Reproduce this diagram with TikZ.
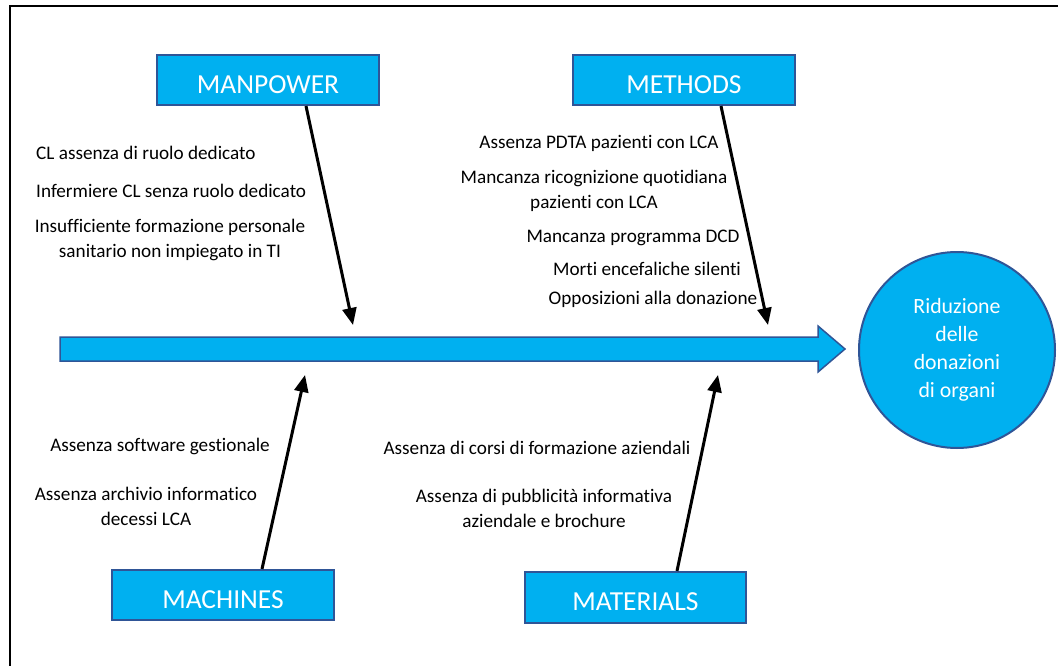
\documentclass[tikz,border=0pt]{standalone}
\usepackage{fontspec}
\setmainfont{Carlito}[Ligatures=NoCommon]
\usetikzlibrary{arrows.meta}
\definecolor{boxfill}{HTML}{00B0F0}
\definecolor{boxedge}{HTML}{2F5597}
\newcommand{\cbtext}[1]{\raisebox{0pt}[\dimexpr\height+9pt\relax][0pt]{#1}}
\begin{document}
\begin{tikzpicture}[x=1pt,y=-1pt,
  catbox/.style={draw=boxedge,line width=2pt,fill=boxfill,text=white,font=\fontsize{27.5}{30}\selectfont,inner sep=0pt,minimum width=222pt,minimum height=50pt},
  cause/.style={font=\fontsize{19.2}{25}\selectfont,inner sep=0pt,align=center},
  bone/.style={line width=3pt,-{Triangle[length=17pt,width=14pt]}}]
\useasboundingbox (0,0) rectangle (1058,666);
\fill[white] (0,0) rectangle (1058,666);
\draw[line width=2pt] (10,666) -- (10,6) -- (1058,6);
% categories
\node[catbox] (man) at (268,80) {\cbtext{MANPOWER}};
\node[catbox] (met) at (684,80) {\cbtext{METHODS}};
\node[catbox] (mac) at (223,595) {\cbtext{MACHINES}};
\node[catbox,minimum width=221pt,minimum height=51pt] (mat) at (635.5,597.5) {\cbtext{MATERIALS}};
% effect
\node[circle,draw=boxedge,line width=2pt,fill=boxfill,text=white,minimum size=196pt,inner sep=0pt,align=center,font=\fontsize{21.8}{28}\selectfont] (eff) at (957,350) {Riduzione\\delle\\donazioni\\di organi};
% spine
\draw[draw=boxedge,line width=1.5pt,fill=boxfill] (60,337) -- (818,337) -- (818,326) -- (845,349) -- (818,372) -- (818,361) -- (60,361) -- cycle;
\coordinate (spA) at (353,325);
\coordinate (spB) at (768,325);
\coordinate (spC) at (305,375);
\coordinate (spD) at (718,375);
\draw[bone] (man.south -| 306,0) -- (spA);
\draw[bone] (met.south -| 721,0) -- (spB);
\draw[bone] (mac.north -| 262,0) -- (spC);
\draw[bone] (mat.north -| 677,0) -- (spD);
% causes
\node[cause,anchor=west] (c1) at (36,153) {CL assenza di ruolo dedicato};
\node[cause,anchor=west] (c2) at (36,191) {Infermiere CL senza ruolo dedicato};
\node[cause] (c3) at (170,240) {Insufficiente formazione personale\\sanitario non impiegato in TI};
\node[cause] (m1) at (599,143) {Assenza PDTA pazienti con LCA};
\node[cause] (m2) at (594,191) {Mancanza ricognizione quotidiana\\pazienti con LCA};
\node[cause] (m3) at (633,238) {Mancanza programma DCD};
\node[cause] (m4) at (647,269) {Morti encefaliche silenti};
\node[cause] (m5) at (653,299) {Opposizioni alla donazione};
\node[cause] (k1) at (160,446) {Assenza software gestionale};
\node[cause] (k2) at (146,506) {Assenza archivio informatico\\decessi LCA};
\node[cause] (t1) at (537,448) {Assenza di corsi di formazione aziendali};
\node[cause] (t2) at (544,508) {Assenza di pubblicità informativa\\aziendale e brochure};
\end{tikzpicture}
\end{document}
